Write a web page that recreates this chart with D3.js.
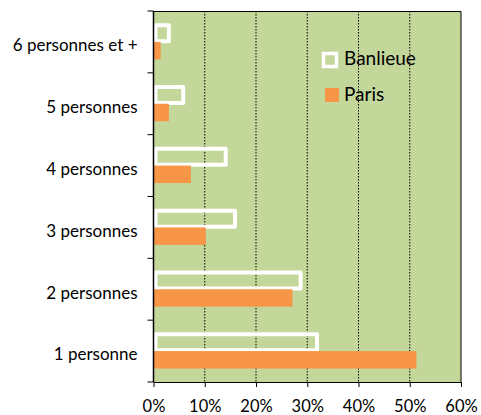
<!DOCTYPE html>
<html>
<head>
<meta charset="utf-8">
<script src="https://cdn.jsdelivr.net/npm/d3@7"></script>
<style>
  body { margin: 0; background: #fff; }
  text { font-family: Lato, "Open Sans", sans-serif; fill: #000; }
</style>
</head>
<body>
<div id="chart"></div>
<script>
// households by size, share of total
const categories = ['1 personne', '2 personnes', '3 personnes', '4 personnes', '5 personnes', '6 personnes et +'];
const banlieue = [31.9, 28.7, 15.9, 14.1, 5.8, 3.0];
const paris = [51.3, 27.1, 10.2, 7.3, 3.0, 1.4];
const seriesNames = ['Banlieue', 'Paris'];
const xTicks = [0, 10, 20, 30, 40, 50, 60];

const width = 481, height = 415;
const margin = {top: 11, right: 20, bottom: 33, left: 153.5};
const w = width - margin.left - margin.right;
const h = height - margin.top - margin.bottom;

const svg = d3.select('#chart').append('svg')
  .attr('width', width)
  .attr('height', height)
  .append('g')
  .attr('transform', `translate(${margin.left},${margin.top})`);

const x = d3.scaleLinear().domain([0, 60]).range([0, w]);
const y0 = d3.scaleBand().domain(categories.slice().reverse()).range([0, h]);
const y1 = d3.scaleBand().domain(seriesNames).range([0, y0.bandwidth()])
  .paddingInner(0).paddingOuter(0.77);

// plot background
svg.append('rect')
  .attr('width', w).attr('height', h)
  .attr('fill', '#c4d79b');

// dotted gridlines
svg.selectAll('.grid')
  .data(xTicks.filter(d => d > 0 && d < 60))
  .enter().append('line')
  .attr('x1', d => x(d)).attr('x2', d => x(d))
  .attr('y1', 0).attr('y2', h)
  .attr('stroke', '#000')
  .attr('stroke-width', 1)
  .attr('stroke-dasharray', '1.5,1.5');

// plot border top/right
svg.append('path')
  .attr('d', `M0,0.5H${w}V${h}`)
  .attr('fill', 'none')
  .attr('stroke', '#000')
  .attr('stroke-width', 1);

const groups = svg.selectAll('.cat')
  .data(categories)
  .enter().append('g')
  .attr('transform', d => `translate(0,${y0(d)})`);

groups.append('rect')
  .attr('x', 2)
  .attr('y', y1('Banlieue') + 0.75)
  .attr('width', (d, i) => x(banlieue[i]) - 2)
  .attr('height', y1.bandwidth() - 1.5)
  .attr('fill', 'none')
  .attr('stroke', '#fff')
  .attr('stroke-width', 4)
  .attr('stroke-linejoin', 'round');

groups.append('rect')
  .attr('x', 0)
  .attr('y', y1('Paris'))
  .attr('width', (d, i) => x(paris[i]))
  .attr('height', y1.bandwidth())
  .attr('fill', '#f79646');

// axes
const xAxis = svg.append('g')
  .attr('transform', `translate(0,${h})`)
  .call(d3.axisBottom(x).tickValues(xTicks).tickFormat(d => d + '%').tickSizeInner(5).tickSizeOuter(0).tickPadding(13));
xAxis.select('.domain').attr('stroke', '#000');
xAxis.selectAll('text').attr('font-size', 16.5);

const yTickPos = d3.range(categories.length + 1).map(i => i * y0.step());
const yAxis = svg.append('g');
yAxis.append('line')
  .attr('x1', 0).attr('x2', 0).attr('y1', 0).attr('y2', h)
  .attr('stroke', '#000').attr('stroke-width', 1.5);
yAxis.selectAll('.tick')
  .data(yTickPos)
  .enter().append('line')
  .attr('x1', -6).attr('x2', 0)
  .attr('y1', d => d).attr('y2', d => d)
  .attr('stroke', '#000');
yAxis.selectAll('.label')
  .data(categories)
  .enter().append('text')
  .attr('x', -16)
  .attr('y', d => y0(d) + y0.bandwidth() / 2 + 5)
  .attr('text-anchor', 'end')
  .attr('dominant-baseline', 'middle')
  .attr('font-size', 17)
  .text(d => d);

// legend
const legend = svg.append('g')
  .attr('transform', `translate(${322 - margin.left},${52 - margin.top})`);
legend.append('rect')
  .attr('x', 1.5).attr('y', 1.5).attr('width', 13).attr('height', 13)
  .attr('fill', 'none').attr('stroke', '#fff').attr('stroke-width', 3.5);
legend.append('text')
  .attr('x', 22).attr('y', 8).attr('dominant-baseline', 'middle')
  .attr('font-size', 19).text('Banlieue');
legend.append('rect')
  .attr('x', 3).attr('y', 36).attr('width', 14).attr('height', 14)
  .attr('fill', '#f79646');
legend.append('text')
  .attr('x', 22).attr('y', 44).attr('dominant-baseline', 'middle')
  .attr('font-size', 19).text('Paris');
</script>
</body>
</html>
